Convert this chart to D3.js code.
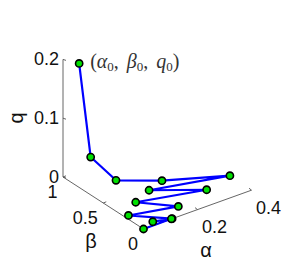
<!DOCTYPE html>
<html>
<head>
<meta charset="utf-8">
<script src="https://cdn.jsdelivr.net/npm/d3@7"></script>
<style>
  body { margin: 0; background: #fff; }
  text { font-family: "Liberation Sans", Arial, sans-serif; }
</style>
</head>
<body>
<div id="chart"></div>
<script>
// iterates (alpha, beta, q), starting from (alpha0, beta0, q0)
var alphaVals = [0.03, 0.07, 0.114, 0.222, 0.402, 0.156, 0.295, 0.080, 0.166, 0.014, 0.106, 0.049, 0.104, 0.0];
var betaVals  = [0.90, 0.891, 0.724, 0.515, 0.275, 0.454, 0.205, 0.365, 0.124, 0.234, 0.0, 0.049, 0.002, 0.0];
var qVals     = [0.197, 0.032, 0.0, 0.0, 0.0, 0.0, 0.0, 0.0, 0.0, 0.0, 0.0, 0.0, 0.0, 0.0];

var qTicks = [0, 0.1, 0.2];
var betaTicks = [0, 0.5, 1];
var alphaTicks = [0.2, 0.4];

var width = 305, height = 265;
var ox = 143.5, oy = 229; // screen position of (0,0,0)

// each data axis moves the point along its own screen direction
var axX = d3.scaleLinear().domain([0, 0.4]).range([0, 108]);
var axY = d3.scaleLinear().domain([0, 0.4]).range([0, -38.8]);
var bxX = d3.scaleLinear().domain([0, 1]).range([0, -80.5]);
var bxY = d3.scaleLinear().domain([0, 1]).range([0, -52]);
var qY  = d3.scaleLinear().domain([0, 0.2]).range([0, -117.6]);

function proj(a, b, q) {
  return [ox + axX(a) + bxX(b), oy + axY(a) + bxY(b) + qY(q)];
}

var svg = d3.select("#chart")
  .append("svg")
  .attr("width", width)
  .attr("height", height);

var axisColor = "#555";

// q axis at alpha=0, beta=1
var q0 = proj(0, 1, 0), q1 = proj(0, 1, 0.2);
svg.append("line")
  .attr("x1", q0[0]).attr("y1", q0[1])
  .attr("x2", q1[0]).attr("y2", q1[1])
  .style("stroke", axisColor).style("stroke-width", 0.9);

// beta axis at alpha=0
var b0 = proj(0, 0, 0), b1 = proj(0, 1, 0);
svg.append("line")
  .attr("x1", b0[0]).attr("y1", b0[1])
  .attr("x2", b1[0]).attr("y2", b1[1])
  .style("stroke", axisColor).style("stroke-width", 0.9);

// alpha axis at beta=0
var a1 = proj(0.4, 0, 0);
svg.append("line")
  .attr("x1", b0[0]).attr("y1", b0[1])
  .attr("x2", a1[0]).attr("y2", a1[1])
  .style("stroke", axisColor).style("stroke-width", 0.9);

// ticks
qTicks.forEach(function(t) {
  var p = proj(0, 1, t);
  svg.append("line")
    .attr("x1", p[0]).attr("y1", p[1]).attr("x2", p[0] + 3).attr("y2", p[1] + 1)
    .style("stroke", axisColor).style("stroke-width", 0.9);
  svg.append("text")
    .attr("x", p[0] - 4).attr("y", p[1] + 6)
    .attr("text-anchor", "end")
    .style("font-size", "18px").style("fill", "#111")
    .text(t);
});

betaTicks.forEach(function(t) {
  var p = proj(0, t, 0);
  svg.append("line")
    .attr("x1", p[0]).attr("y1", p[1]).attr("x2", p[0] + 3).attr("y2", p[1] - 1.2)
    .style("stroke", axisColor).style("stroke-width", 0.9);
  svg.append("text")
    .attr("x", p[0] - 5.5).attr("y", p[1] + 21)
    .attr("text-anchor", "end")
    .style("font-size", "18px").style("fill", "#111")
    .text(t);
});

alphaTicks.forEach(function(t) {
  var p = proj(t, 0, 0);
  svg.append("line")
    .attr("x1", p[0]).attr("y1", p[1]).attr("x2", p[0] - 2.5).attr("y2", p[1] - 2)
    .style("stroke", axisColor).style("stroke-width", 0.9);
  svg.append("text")
    .attr("x", p[0] + 4.5).attr("y", p[1] + 23.5)
    .attr("text-anchor", "start")
    .style("font-size", "18px").style("fill", "#111")
    .text(t);
});

// axis labels
svg.append("text")
  .attr("transform", "translate(23,118) rotate(-90)")
  .attr("text-anchor", "middle")
  .style("font-size", "20px").style("fill", "#111")
  .text("q");
svg.append("text")
  .attr("x", 91).attr("y", 248)
  .attr("text-anchor", "middle")
  .style("font-size", "20px").style("fill", "#111")
  .text("β");
svg.append("text")
  .attr("x", 206).attr("y", 257)
  .attr("text-anchor", "middle")
  .style("font-size", "20px").style("fill", "#111")
  .text("α");

// trajectory
var pts = alphaVals.map(function(a, i) { return proj(a, betaVals[i], qVals[i]); });

svg.append("path")
  .datum(pts)
  .attr("d", d3.line())
  .style("fill", "none")
  .style("stroke", "#0000ff")
  .style("stroke-width", 2.2)
  .style("stroke-linejoin", "round");

svg.selectAll(".pin")
  .data(pts)
  .enter().append("circle")
  .attr("class", "pin")
  .attr("cx", function(d) { return d[0]; })
  .attr("cy", function(d) { return d[1]; })
  .attr("r", 3.6)
  .style("fill", "#00e000")
  .style("stroke", "#000")
  .style("stroke-width", 1.6);

// start point annotation
var ann = svg.append("text")
  .attr("x", pts[0][0] + 11).attr("y", pts[0][1] + 5)
  .style("font-family", "'Liberation Serif', 'DejaVu Serif', serif")
  .style("font-size", "20px")
  .style("fill", "#333");
ann.append("tspan").text("(");
ann.append("tspan").style("font-style", "italic").text("α");
ann.append("tspan").attr("dy", 3).style("font-size", "13px").text("0");
ann.append("tspan").attr("dy", -3).text(", ");
ann.append("tspan").attr("dx", 3).style("font-style", "italic").text("β");
ann.append("tspan").attr("dy", 3).style("font-size", "13px").text("0");
ann.append("tspan").attr("dy", -3).text(", ");
ann.append("tspan").attr("dx", 3).style("font-style", "italic").text("q");
ann.append("tspan").attr("dy", 3).style("font-size", "13px").text("0");
ann.append("tspan").attr("dy", -3).text(")");
</script>
</body>
</html>
